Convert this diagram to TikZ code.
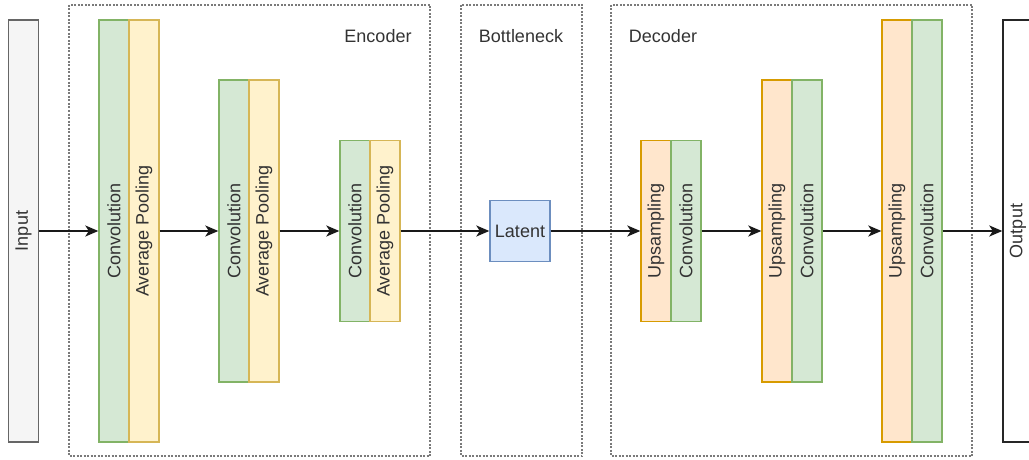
\documentclass[tikz,border=0pt]{standalone}
\usepackage{fontspec}
\setmainfont{Liberation Sans}
\usetikzlibrary{arrows.meta}

\definecolor{convfill}{HTML}{D5E8D4}
\definecolor{convline}{HTML}{82B366}
\definecolor{poolfill}{HTML}{FFF2CC}
\definecolor{poolline}{HTML}{D6B656}
\definecolor{upfill}{HTML}{FFE6CC}
\definecolor{upline}{HTML}{D79B00}
\definecolor{latfill}{HTML}{DAE8FC}
\definecolor{latline}{HTML}{6C8EBF}
\definecolor{iofill}{HTML}{F5F5F5}
\definecolor{ioline}{HTML}{666666}
\definecolor{txt}{HTML}{333333}
\definecolor{groupline}{HTML}{7A7A7A}

\tikzset{
  layer/.style={draw, line width=1.4pt, minimum width=30pt, inner sep=0pt,
    text=txt, font=\fontsize{18}{21}\selectfont,
    label={[rotate=90, text=txt, font=\fontsize{18}{21}\selectfont]center:#1}},
  conv/.style={layer=#1, fill=convfill, draw=convline},
  pool/.style={layer=#1, fill=poolfill, draw=poolline},
  upsm/.style={layer=#1, fill=upfill, draw=upline},
  group/.style={draw=groupline, line width=1.1pt, dash pattern=on 2pt off 1.5pt},
  grouplabel/.style={text=txt, font=\fontsize{18}{21}\selectfont},
  flow/.style={draw=black!90, line width=1.6pt,
    -{Stealth[length=13pt, width=11pt, inset=3.5pt]}},
}

\begin{document}
\begin{tikzpicture}[x=1pt, y=-1pt]
\useasboundingbox (0,0) rectangle (1029,460);

% group frames
\draw[group] (69,5) rectangle (430,456);
\draw[group] (461,5) rectangle (582,456);
\draw[group] (611,5) rectangle (972,456);
\node[grouplabel] (enc) at (378,36) {Encoder};
\node[grouplabel] (bot) at (521,36) {Bottleneck};
\node[grouplabel] (dec) at (663,36) {Decoder};

% input / output
\node[layer=Input, fill=iofill, draw=ioline, minimum height=422pt] (in) at (23.5,231) {};
\node[layer=Output, fill=white, draw=black!85, minimum height=422pt] (out) at (1018,231) {};

% encoder stages
\node[conv=Convolution, minimum height=422pt] (c1) at (114,231) {};
\node[pool=Average Pooling, minimum height=422pt] (p1) at (144,231) {};
\node[conv=Convolution, minimum height=302pt] (c2) at (234,231) {};
\node[pool=Average Pooling, minimum height=302pt] (p2) at (264,231) {};
\node[conv=Convolution, minimum height=181pt] (c3) at (355,231) {};
\node[pool=Average Pooling, minimum height=181pt] (p3) at (385,231) {};

% bottleneck
\node[draw=latline, fill=latfill, line width=1.4pt, minimum width=60pt,
  minimum height=61pt, inner sep=0pt, text=txt,
  font=\fontsize{18}{21}\selectfont] (lat) at (520,231) {Latent};

% decoder stages
\node[upsm=Upsampling, minimum height=181pt] (u1) at (656,231) {};
\node[conv=Convolution, minimum height=181pt] (d1) at (686,231) {};
\node[upsm=Upsampling, minimum height=302pt] (u2) at (777,231) {};
\node[conv=Convolution, minimum height=302pt] (d2) at (807,231) {};
\node[upsm=Upsampling, minimum height=422pt] (u3) at (897,231) {};
\node[conv=Convolution, minimum height=422pt] (d3) at (927,231) {};

% data flow
\draw[flow] (in) -- (c1);
\draw[flow] (p1) -- (c2);
\draw[flow] (p2) -- (c3);
\draw[flow] (p3) -- (lat);
\draw[flow] (lat) -- (u1);
\draw[flow] (d1) -- (u2);
\draw[flow] (d2) -- (u3);
\draw[flow] (d3) -- (out);
\end{tikzpicture}
\end{document}
